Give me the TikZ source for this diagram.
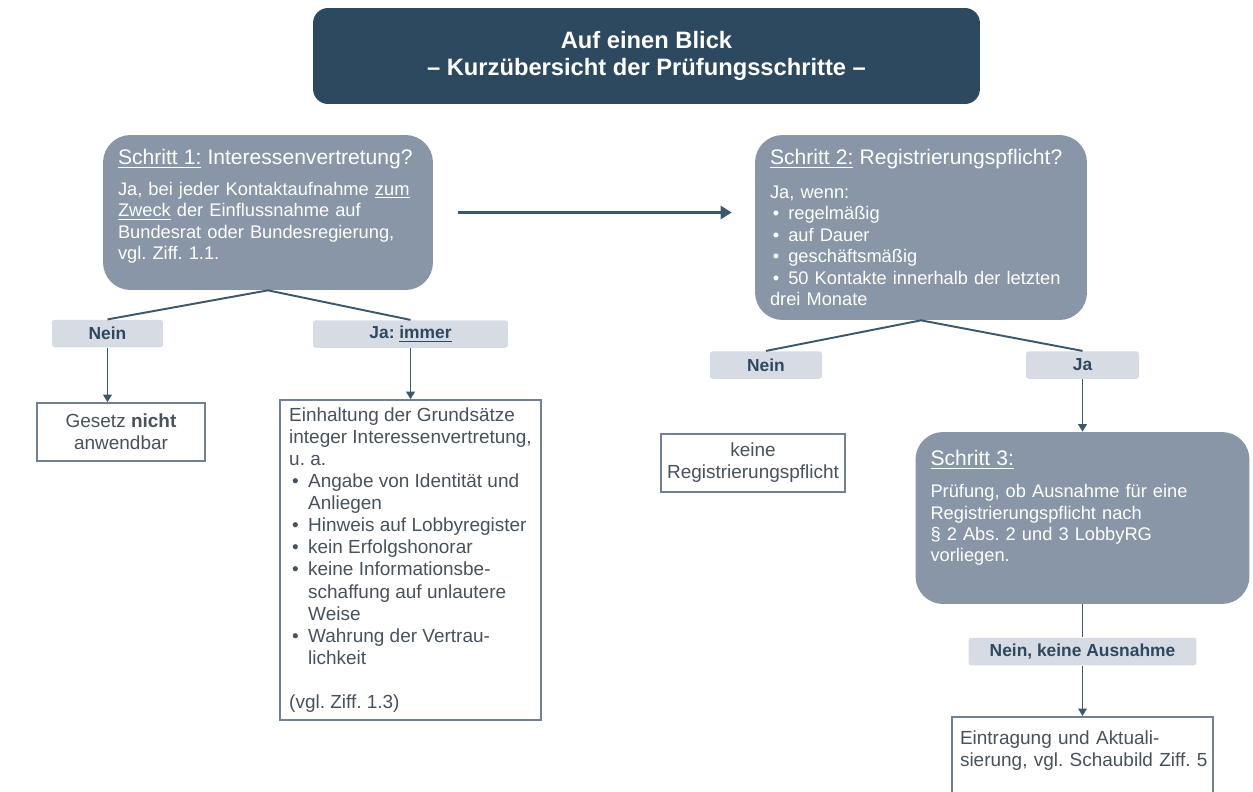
\documentclass[tikz,border=0pt]{standalone}
\usepackage{fontspec}
\setmainfont{Liberation Sans}
\usepackage{xcolor}
\usetikzlibrary{arrows.meta, positioning}
\definecolor{blick_dark}{RGB}{45, 73, 96}
\definecolor{blick_step}{RGB}{136, 150, 167}
\definecolor{blick_answer}{RGB}{214, 219, 228}
\definecolor{blick_line}{RGB}{60, 88, 108}
\definecolor{blick_frame}{RGB}{112, 130, 146}
\definecolor{blick_text}{RGB}{72, 82, 92}
\newcommand{\bul}{\makebox[1em][l]{\hspace{0.15em}\textbullet}}
\newcommand{\ein}{\hspace*{1em}}
\newcommand{\kopf}{\fontsize{12}{14}\selectfont}
\frenchspacing

\begin{document}
\begin{tikzpicture}[x=0.02cm, y=-0.02cm,
    titlebox/.style={fill=blick_dark, text=white, rounded corners=0.3cm, align=center,
      font=\bfseries\fontsize{13.5}{15.5}\selectfont},
    stepbox/.style={fill=blick_step, text=white, rounded corners=0.55cm, align=left,
      inner xsep=0.3cm, font=\fontsize{10.4}{12.2}\selectfont},
    answer/.style={fill=blick_answer, text=blick_dark, rounded corners=1.5pt,
      minimum height=0.55cm, inner sep=0pt, font=\bfseries\fontsize{9.9}{12}\selectfont},
    resultbox/.style={draw=blick_frame, line width=0.9pt, fill=white, text=blick_text,
      font=\fontsize{10.8}{12.6}\selectfont},
    link/.style={draw=blick_line, line width=1.1pt},
    flow/.style={link, -{Triangle[length=1.5mm, width=1.7mm]}}]
  \useasboundingbox (0,0) rectangle (1253,791);
  \clip (0,0) rectangle (1253,791);

  \node[titlebox, minimum width=13.34cm, minimum height=1.92cm] (blick) at (646.5,56)
    {Auf einen Blick\\– Kurzübersicht der Prüfungsschritte –};

  % Schritte
  \node[stepbox, minimum width=6.6cm, minimum height=3.1cm, text width=6.0cm] (schritt1) at (268,212.5)
    {\mbox{\kopf\underline{Schritt 1:} Interessenvertretung?}\\[5pt]
     Ja, bei jeder Kontaktaufnahme \underline{zum}\\ \underline{Zweck} der Einflussnahme auf\\
     Bundesrat oder Bundesregierung,\\ vgl. Ziff. 1.1.\par\vspace{0.24cm}};
  \node[stepbox, minimum width=6.64cm, minimum height=3.7cm, text width=6.04cm] (schritt2) at (921,227.5)
    {\mbox{\kopf\underline{Schritt 2:} Registrierungspflicht?}\\[7pt]
     Ja, wenn:\\ \bul regelmäßig\\ \bul auf Dauer\\ \bul geschäftsmäßig\\
     \bul 50 Kontakte innerhalb der letzten\\ drei Monate};
  \node[stepbox, minimum width=6.68cm, minimum height=3.44cm, text width=6.08cm] (schritt3) at (1082.5,518)
    {\mbox{\kopf\underline{Schritt 3:}}\\[6pt]
     Prüfung, ob Ausnahme für eine\\ Registrierungspflicht nach\\ § 2 Abs. 2 und 3 LobbyRG\\
     vorliegen.\par\vspace{0.4cm}};

  % Antworten
  \node[answer, minimum width=2.22cm] (nein1) at (107.5,333.5) {Nein};
  \node[answer, minimum width=3.9cm] (ja1) at (410.5,334) {Ja: \underline{immer}};
  \node[answer, minimum width=2.24cm] (nein2) at (766,365) {Nein};
  \node[answer, minimum width=2.26cm] (ja2) at (1082.5,365) {Ja};
  \node[answer, minimum width=4.56cm] (ausnahme) at (1082.5,651.5) {Nein, keine Ausnahme};

  % Ergebnisse
  \node[resultbox, minimum width=3.36cm, minimum height=1.16cm, align=center] (nicht) at (121,432)
    {Gesetz \textbf{nicht}\\ anwendbar};
  \node[resultbox, minimum width=5.22cm, minimum height=6.4cm, align=left] (grundsaetze) at (410.5,560)
    {Einhaltung der Grundsätze\\ integer Interessenvertretung,\\ u. a.\\
     \bul Angabe von Identität und\\ \ein Anliegen\\ \bul Hinweis auf Lobbyregister\\
     \bul kein Erfolgshonorar\\ \bul keine Informationsbe-\\ \ein schaffung auf unlautere\\
     \ein Weise\\ \bul Wahrung der Vertrau-\\ \ein lichkeit\\[12.6pt] (vgl. Ziff. 1.3)};
  \node[resultbox, minimum width=3.4cm, minimum height=1.16cm, align=center] (keine) at (753,463)
    {keine\\ Registrierungspflicht};
  \node[resultbox, anchor=north, text width=4.9cm, inner xsep=0.16cm, inner ysep=0.28cm, align=left] (eintragung) at (1082.5,716)
    {Eintragung und Aktuali-\\ \mbox{sierung, vgl. Schaubild Ziff. 5}\par\vspace{1.2cm}};

  % Verbindungen
  \draw[link] (schritt1.south) -- (nein1.north);
  \draw[link] (schritt1.south) -- (ja1.north);
  \draw[flow] (nein1.south) -- (nein1.south |- nicht.north);
  \draw[flow] (ja1.south) -- (grundsaetze.north);
  \draw[link, line width=1.7pt, -{Triangle[length=2.2mm, width=2.6mm]}, shorten <=0.5cm, shorten >=0.46cm]
    (schritt1.east) -- (schritt1.east -| schritt2.west);
  \draw[link] (schritt2.south) -- (nein2.north);
  \draw[link] (schritt2.south) -- (ja2.north);
  \draw[flow] (ja2.south) -- (schritt3.north);
  \draw[link] (schritt3.south) -- (ausnahme.north);
  \draw[flow] (ausnahme.south) -- (eintragung.north);
\end{tikzpicture}
\end{document}
